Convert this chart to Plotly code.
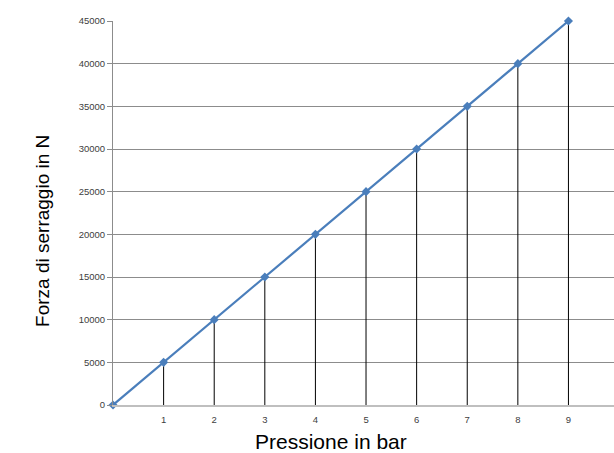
import plotly.graph_objects as go

# Pressure (bar) vs clamping force (N)
pressione = [0, 1, 2, 3, 4, 5, 6, 7, 8, 9]
forza = [0, 5000, 10000, 15000, 20000, 25000, 30000, 35000, 40000, 45000]
y_ticks = [0, 5000, 10000, 15000, 20000, 25000, 30000, 35000, 40000, 45000]
x_ticks = [1, 2, 3, 4, 5, 6, 7, 8, 9]

# vertical drop lines from each point down to the x axis
drop_x, drop_y = [], []
for p, f in zip(pressione, forza):
    drop_x += [p, p, None]
    drop_y += [0, f, None]

fig = go.Figure()
fig.add_trace(go.Scatter(
    x=drop_x, y=drop_y, mode="lines",
    line=dict(color="#000000", width=1), hoverinfo="skip", showlegend=False,
))
fig.add_trace(go.Scatter(
    x=pressione, y=forza, mode="lines+markers",
    line=dict(color="#4A7EBB", width=2.2),
    marker=dict(symbol="diamond", size=7, color="#4A7EBB"),
    cliponaxis=False, showlegend=False,
))

fig.update_layout(
    width=614, height=453,
    margin=dict(l=113, r=0, t=21, b=48),
    paper_bgcolor="white", plot_bgcolor="white",
    font=dict(family="Liberation Sans, Arial, sans-serif", color="#000000"),
    xaxis=dict(
        range=[0, 9.9], tickvals=x_ticks, ticktext=[str(v) for v in x_ticks],
        showgrid=False, zeroline=False,
        showline=True, linecolor="#BFBFBF", linewidth=2,
        ticks="", ticklabelstandoff=5, tickfont=dict(size=9.5, color="#404040"),
    ),
    yaxis=dict(
        range=[0, 45000], tickvals=y_ticks, ticktext=[str(v) for v in y_ticks],
        showgrid=True, gridcolor="#8C8C8C", gridwidth=1, zeroline=False,
        showline=True, linecolor="#8C8C8C", linewidth=1,
        ticks="outside", ticklen=5, tickcolor="#8C8C8C",
        tickfont=dict(size=9.5, color="#404040"),
    ),
    annotations=[
        dict(text="Pressione in bar", xref="paper", yref="paper",
             x=0.435, y=-0.096, xanchor="center", yanchor="middle",
             showarrow=False, font=dict(size=21, color="#000000")),
        dict(text="Forza di serraggio in N", xref="paper", yref="paper",
             x=-0.142, y=0.453, xanchor="center", yanchor="middle",
             textangle=-90, showarrow=False, font=dict(size=19, color="#000000")),
    ],
)

fig.write_html("out.html")
